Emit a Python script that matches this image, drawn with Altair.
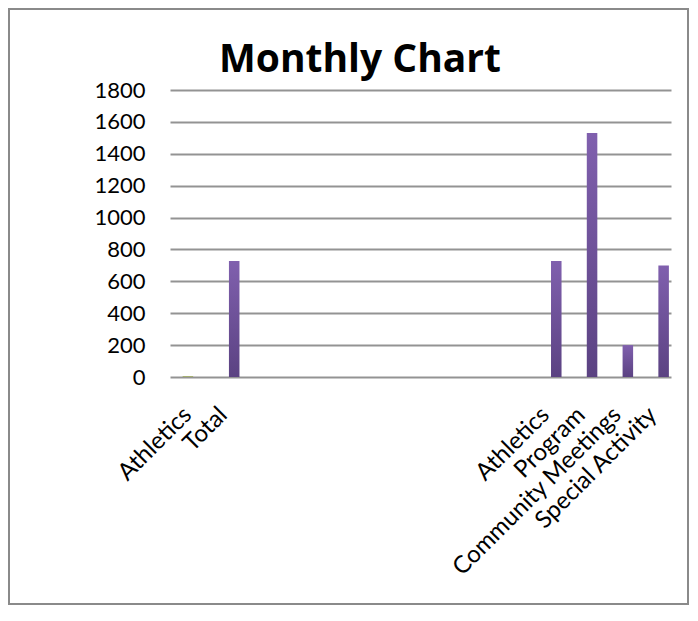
import altair as alt
import pandas as pd

# ---- data ----
slot_keys = [f"c{i:02d}" for i in range(1, 15)]
slot_labels = ["Athletics", "Total", "", "", "", "", "", "", "", "",
               "Athletics", "Program", "Community Meetings", "Special Activity"]
purple_values = [None, 728, None, None, None, None, None, None, None, None,
                 728, 1530, 200, 700]
olive_values = [6, None, None, None, None, None, None, None, None, None,
                None, None, None, None]
series_keys = ["s1", "s2", "s3"]
y_ticks = [0, 200, 400, 600, 800, 1000, 1200, 1400, 1600, 1800]
title_text = "Monthly Chart"

rows = []
for k, v in zip(slot_keys, purple_values):
    if v is not None:
        rows.append({"key": k, "series": "s3", "value": v})
for k, v in zip(slot_keys, olive_values):
    if v is not None:
        rows.append({"key": k, "series": "s2", "value": v})
df = pd.DataFrame(rows)

label_map = "{" + ",".join(f"'{k}':'{l}'" for k, l in zip(slot_keys, slot_labels)) + "}"

x_enc = alt.X(
    "key:N",
    scale=alt.Scale(domain=slot_keys, paddingInner=0, paddingOuter=0),
    axis=alt.Axis(
        labelExpr=f"({label_map})[datum.value]",
        labelAngle=-45, labelAlign="right", labelBaseline="middle",
        labelPadding=34, ticks=False, domain=False, grid=False,
        labelFont="Lato", labelFontSize=24, labelColor="black",
        labelOverlap=False, labelLimit=0, title=None,
    ),
)
xo_enc = alt.XOffset(
    "series:N",
    scale=alt.Scale(domain=series_keys, paddingInner=0, paddingOuter=0.2),
)
y_enc = alt.Y(
    "value:Q",
    scale=alt.Scale(domain=[0, 1800], nice=False),
    axis=alt.Axis(
        values=y_ticks, format="d", ticks=False, domain=False, labelPadding=25,
        labelFont="Lato", labelFontSize=22, labelColor="black",
        gridColor="#939393", gridWidth=2, gridOpacity=1, title=None,
    ),
)

base = alt.Chart(df)

purple = base.transform_filter(alt.datum.series == "s3").mark_bar(
    color=alt.Gradient(
        gradient="linear",
        stops=[alt.GradientStop(color="#5B4282", offset=0),
               alt.GradientStop(color="#8060AE", offset=1)],
        x1=0, x2=0, y1=1, y2=0,
    )
).encode(x=x_enc, xOffset=xo_enc, y=y_enc)

olive = base.transform_filter(alt.datum.series == "s2").mark_bar(
    color="#A3AE6E"
).encode(x=x_enc, xOffset=xo_enc, y=y_enc)

one = pd.DataFrame({"t": [title_text]})

title = alt.Chart(one).mark_text(
    font="Open Sans", fontSize=39, fontWeight="bold", color="black",
    align="center", baseline="alphabetic",
).encode(text="t:N", x=alt.value(190), y=alt.value(-18))

frame = alt.Chart(one).mark_rect(
    fillOpacity=0, stroke="#8A8A8A", strokeWidth=2
).encode(x=alt.value(-161), x2=alt.value(518), y=alt.value(-81), y2=alt.value(514))

chart = alt.layer(frame, olive, purple, title).properties(
    width=501, height=287,
    padding={"left": 162, "top": 82, "right": 19, "bottom": 229},
    autosize=alt.AutoSizeParams(type="none"),
).configure_view(stroke=None)

chart.save("out.html", embed_options={"renderer": "svg", "actions": False})
